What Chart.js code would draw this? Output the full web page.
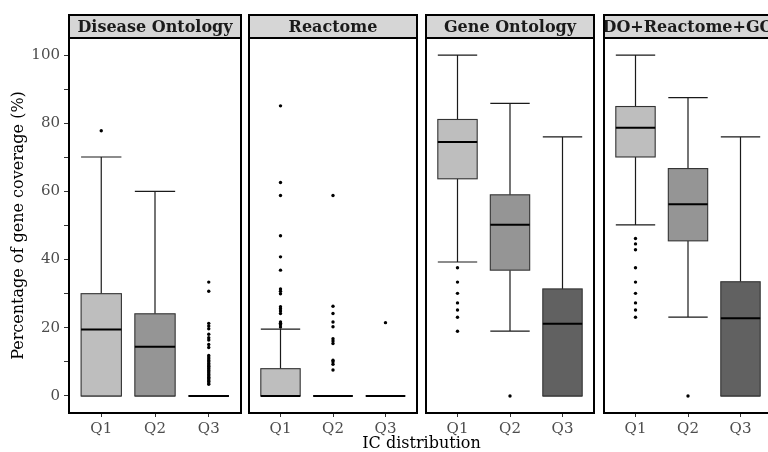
<!DOCTYPE html>
<html>
<head>
<meta charset="utf-8">
<script src="https://cdn.jsdelivr.net/npm/chart.js@4.4.1/dist/chart.umd.min.js"></script>
<style>
body { margin: 0; width: 768px; height: 452px; overflow: hidden; background: #fff; position: relative; font-family: 'DejaVu Serif', serif; }
canvas { position: absolute; top: 0; }
#xtitle { position: absolute; left: 0; width: 843px; top: 434px; text-align: center; font-size: 16px; color: #000; line-height: 18px; }
</style>
</head>
<body>
<canvas id="p0" width="245" height="452" style="left:0px"></canvas>
<canvas id="p1" width="176" height="452" style="left:245px"></canvas>
<canvas id="p2" width="176" height="452" style="left:422px"></canvas>
<canvas id="p3" width="176" height="452" style="left:600px"></canvas>
<div id="xtitle">IC distribution</div>
<script>
// data
const categories = ['Q1', 'Q2', 'Q3'];
const panels = ['Disease Ontology', 'Reactome', 'Gene Ontology', 'DO+Reactome+GO'];
const fills = ['#bebebe', '#959595', '#616161'];

const whiskerLow  = [[0, 0, 0], [0, 0, 0], [39.3, 19.0, 0], [50.2, 23.1, 0]];
const boxLow      = [[0, 0, 0], [0, 0, 0], [63.7, 36.9, 0], [70.1, 45.5, 0]];
const medians     = [[19.5, 14.4, 0], [0, 0, 0], [74.5, 50.2, 21.2], [78.7, 56.2, 22.8]];
const boxHigh     = [[30.0, 24.1, 0], [8.0, 0, 0], [81.1, 59.0, 31.4], [84.9, 66.7, 33.5]];
const whiskerHigh = [[70.1, 60.0, 0], [19.6, 0, 0], [100, 85.8, 76.0], [100, 87.5, 76.0]];

const outliersDO = [
    [77.8],
    [],
    [33.4, 30.7, 21.3, 20.5, 19.7, 18.1, 17.1, 16.4, 15.1, 14.2, 11.9, 11.4, 10.9, 10.4, 10.0, 9.5, 9.1, 8.7, 8.3,
     7.9, 7.5, 7.1, 6.7, 6.3, 5.9, 5.5, 5.1, 4.7, 4.3, 3.8, 3.4]
];
const outliersReactome = [
    [85.1, 62.6, 58.8, 47.0, 40.8, 36.9, 31.4, 30.7, 30.0, 26.2, 25.6, 24.9, 24.2, 21.7, 21.3, 20.9, 20.2],
    [58.8, 26.3, 24.2, 21.7, 20.3, 16.8, 16.1, 15.4, 10.5, 10.0, 9.3, 7.6],
    [21.5]
];
const outliersGO = [
    [37.6, 33.4, 30.1, 27.3, 25.2, 23.1, 19.0],
    [0],
    []
];
const outliersAll = [
    [46.2, 44.6, 42.9, 37.6, 33.4, 30.1, 27.3, 25.2, 23.1],
    [0],
    []
];
const outliers = [outliersDO, outliersReactome, outliersGO, outliersAll];

const boxWidth = 0.75;

const boxPlugin = {
    id: 'boxes',
    beforeDatasetsDraw(chart) {
        const p = chart.options.plugins.boxes.panel;
        const x = chart.scales.x, y = chart.scales.y, ctx = chart.ctx;
        ctx.save();
        categories.forEach((c, i) => {
            const l = x.getPixelForValue(i + 1 - boxWidth / 2);
            const r = x.getPixelForValue(i + 1 + boxWidth / 2);
            const m = x.getPixelForValue(i + 1);
            // whiskers
            ctx.strokeStyle = '#1a1a1a';
            ctx.lineWidth = 1.2;
            ctx.beginPath();
            ctx.moveTo(m, y.getPixelForValue(boxHigh[p][i]));
            ctx.lineTo(m, y.getPixelForValue(whiskerHigh[p][i]));
            ctx.moveTo(m, y.getPixelForValue(boxLow[p][i]));
            ctx.lineTo(m, y.getPixelForValue(whiskerLow[p][i]));
            ctx.moveTo(l, y.getPixelForValue(whiskerHigh[p][i]));
            ctx.lineTo(r, y.getPixelForValue(whiskerHigh[p][i]));
            ctx.moveTo(l, y.getPixelForValue(whiskerLow[p][i]));
            ctx.lineTo(r, y.getPixelForValue(whiskerLow[p][i]));
            ctx.stroke();
            // box
            const top = y.getPixelForValue(boxHigh[p][i]);
            const bot = y.getPixelForValue(boxLow[p][i]);
            ctx.fillStyle = fills[i];
            ctx.fillRect(l, top, r - l, bot - top);
            ctx.strokeStyle = '#333';
            ctx.lineWidth = 1.1;
            ctx.strokeRect(l, top, r - l, bot - top);
            // median
            ctx.strokeStyle = '#000';
            ctx.lineWidth = 2;
            ctx.beginPath();
            ctx.moveTo(l, y.getPixelForValue(medians[p][i]));
            ctx.lineTo(r, y.getPixelForValue(medians[p][i]));
            ctx.stroke();
        });
        ctx.restore();
    },
    afterDraw(chart) {
        const p = chart.options.plugins.boxes.panel;
        const a = chart.chartArea, ctx = chart.ctx;
        ctx.save();
        ctx.strokeStyle = '#000';
        ctx.lineWidth = 2;
        ctx.strokeRect(a.left, a.top, a.right - a.left, a.bottom - a.top);
        // strip
        const sTop = 15;
        ctx.fillStyle = '#d6d6d6';
        ctx.fillRect(a.left, sTop, a.right - a.left, a.top - sTop);
        ctx.strokeRect(a.left, sTop, a.right - a.left, a.top - sTop);
        ctx.beginPath();
        ctx.rect(a.left + 1, sTop, a.right - a.left - 2, a.top - sTop);
        ctx.clip();
        ctx.fillStyle = '#1a1a1a';
        ctx.font = 'bold 16px "DejaVu Serif"';
        ctx.textAlign = 'center';
        ctx.textBaseline = 'middle';
        ctx.fillText(panels[p], (a.left + a.right) / 2, (sTop + a.top) / 2 + 1);
        ctx.restore();
    }
};

Chart.defaults.font.family = 'DejaVu Serif';
Chart.defaults.animation = false;

makePanel = (p) => {
    const first = p === 0;
    const points = [];
    outliers[p].forEach((list, i) => list.forEach((v) => points.push({ x: i + 1, y: v })));
    new Chart(document.getElementById('p' + p), {
        type: 'scatter',
        data: {
            datasets: [{
                data: points,
                pointRadius: 1.7,
                pointBackgroundColor: '#000',
                pointBorderWidth: 0
            }]
        },
        plugins: [boxPlugin],
        options: {
            responsive: false,
            layout: { padding: { left: first ? 0 : 2, right: first ? 4 : 2, top: 38, bottom: 0 } },
            plugins: { legend: { display: false }, tooltip: { enabled: false }, boxes: { panel: p } },
            scales: {
                x: {
                    type: 'linear', min: 0.4, max: 3.6,
                    afterBuildTicks: (s) => { s.ticks = categories.map((c, i) => ({ value: i + 1 })); },
                    afterFit: (s) => { s.height = 39; },
                    ticks: {
                        callback: (v, i) => categories[i],
                        color: '#4d4d4d', font: { size: 15 }, padding: 3, maxRotation: 0, autoSkip: false
                    },
                    grid: { drawOnChartArea: false, tickLength: 4, color: '#333' },
                    border: { display: false }
                },
                y: {
                    display: first,
                    min: -5, max: 105,
                    afterFit: (s) => { s.width = first ? 69 : 0; },
                    ticks: {
                        stepSize: 5,
                        callback: (v) => (v < 0 || v > 100) ? null : (v % 20 === 0 ? String(v) : ''),
                        color: '#4d4d4d', font: { size: 15 }, padding: 4
                    },
                    grid: { drawOnChartArea: false, tickLength: 5, color: '#333' },
                    border: { display: false },
                    title: {
                        display: true, text: 'Percentage of gene coverage (%)',
                        color: '#000', font: { size: 16 }, padding: { top: 9, bottom: 0 }
                    }
                }
            }
        }
    });
}

panels.forEach((name, p) => makePanel(p));
</script>
</body>
</html>
